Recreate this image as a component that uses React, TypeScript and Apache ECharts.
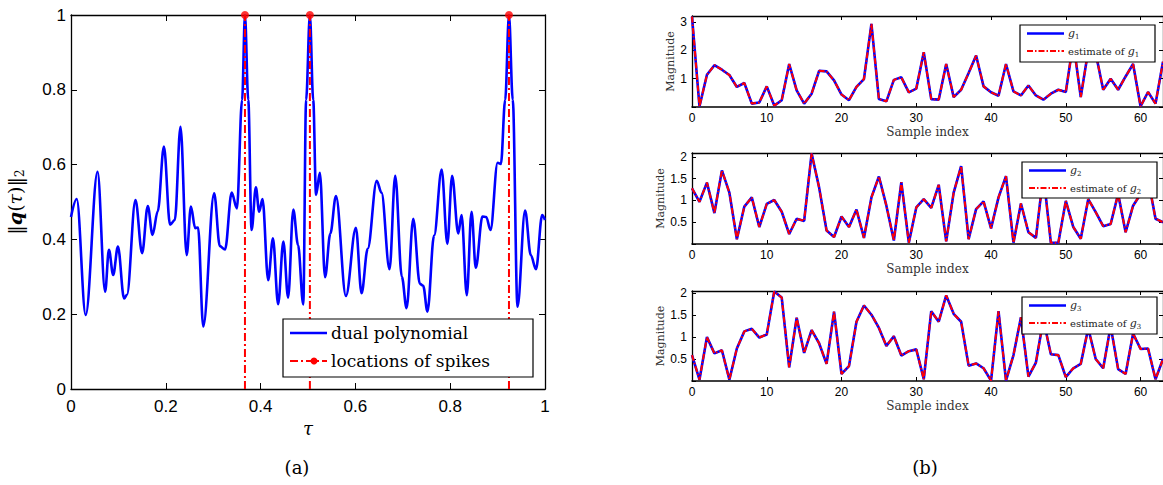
import React, { useEffect, useRef } from "react";
import * as echarts from "echarts";

// ---------- data ----------
const tau = [
  0.0, 0.012, 0.031, 0.056, 0.072, 0.08, 0.089, 0.099, 0.112, 0.118, 0.136, 0.15, 0.162, 0.172, 0.183, 0.196,
  0.209, 0.219, 0.231, 0.244, 0.253, 0.262, 0.268, 0.279, 0.302, 0.314, 0.325, 0.339, 0.35, 0.361, 0.367, 0.374,
  0.381, 0.39, 0.397, 0.404, 0.416, 0.426, 0.437, 0.448, 0.458, 0.469, 0.479, 0.49, 0.496, 0.504, 0.511, 0.517,
  0.525, 0.536, 0.547, 0.559, 0.58, 0.601, 0.613, 0.626, 0.645, 0.655, 0.672, 0.684, 0.698, 0.708, 0.722, 0.736,
  0.743, 0.752, 0.766, 0.782, 0.794, 0.804, 0.817, 0.824, 0.835, 0.845, 0.854, 0.868, 0.876, 0.885, 0.9, 0.907,
  0.916, 0.924, 0.932, 0.942, 0.958, 0.97, 0.981, 0.994, 1.0,
];
const dualPoly = [
  0.46, 0.508, 0.198, 0.581, 0.26, 0.372, 0.305, 0.381, 0.242, 0.252, 0.505, 0.363, 0.489, 0.412, 0.475, 0.648,
  0.439, 0.452, 0.701, 0.358, 0.488, 0.43, 0.432, 0.167, 0.523, 0.382, 0.373, 0.525, 0.483, 0.773, 1.0, 0.773,
  0.425, 0.539, 0.474, 0.508, 0.291, 0.403, 0.227, 0.394, 0.244, 0.48, 0.385, 0.226, 0.773, 1.0, 0.773, 0.519,
  0.578, 0.299, 0.415, 0.516, 0.249, 0.431, 0.256, 0.375, 0.557, 0.525, 0.32, 0.57, 0.3, 0.216, 0.455, 0.281,
  0.276, 0.207, 0.41, 0.587, 0.388, 0.57, 0.416, 0.465, 0.251, 0.474, 0.324, 0.461, 0.46, 0.425, 0.605, 0.602,
  0.773, 1.0, 0.773, 0.22, 0.477, 0.358, 0.32, 0.465, 0.452,
];
const spikeTau = [0.367, 0.504, 0.924];

const g1 = [
  3.2, 0.02, 1.14, 1.48, 1.32, 1.13, 0.71, 0.85, 0.12, 0.16, 0.73, 0.05, 0.24, 1.52, 0.59, 0.12, 0.47, 1.28, 1.26, 0.94,
  0.44, 0.24, 0.71, 0.99, 2.94, 0.28, 0.2, 0.96, 1.05, 0.52, 0.65, 1.94, 0.28, 0.26, 1.52, 0.35, 0.61, 1.2, 1.82, 0.73,
  0.52, 0.4, 1.52, 0.55, 0.41, 0.76, 0.41, 0.26, 0.47, 0.61, 0.53, 2.3, 0.35, 2.0, 1.9, 0.61, 1.0, 0.61, 1.08, 1.52,
  0.02, 0.53, 0.12, 1.6,
];
const g2 = [
  1.28, 0.97, 1.41, 0.71, 1.69, 1.18, 0.11, 0.86, 1.07, 0.39, 0.92, 1.01, 0.74, 0.23, 0.58, 0.53, 2.08, 1.3, 0.31, 0.16,
  0.63, 0.39, 0.79, 0.14, 1.07, 1.55, 0.88, 0.08, 1.42, 0.03, 0.84, 1.03, 0.83, 1.36, 0.06, 1.18, 1.79, 0.11, 0.8, 0.98,
  0.36, 1.07, 1.56, 0.03, 0.93, 0.27, 0.14, 1.6, 0.03, 0.03, 0.99, 0.39, 0.12, 1.03, 0.73, 0.41, 0.46, 1.15, 0.27, 0.88,
  1.15, 1.5, 0.58, 0.5,
];
const g3 = [
  0.59, 0.03, 1.0, 0.63, 0.7, 0.03, 0.74, 1.13, 1.19, 0.99, 1.06, 2.04, 1.9, 0.31, 1.44, 0.64, 1.16, 0.86, 0.39, 1.58,
  0.16, 0.34, 1.35, 1.72, 1.51, 1.21, 0.8, 1.02, 0.58, 0.68, 0.72, 0.04, 1.59, 1.35, 1.95, 1.53, 1.35, 0.35, 0.4, 0.29,
  0.01, 1.59, 0.01, 0.59, 1.45, 0.1, 0.42, 1.4, 0.61, 0.59, 0.09, 0.29, 0.39, 1.2, 0.5, 0.29, 1.25, 0.27, 0.16, 1.08,
  0.73, 0.74, 0.04, 0.5,
];
const gSeries = [g1, g2, g3];
const gNames = ["1", "2", "3"];
const yMaxes = [3.22, 2.09, 2.05];
const yIntervals = [1, 0.5, 0.5];
const legendTexts = ["dual polynomial", "locations of spikes"];

// ---------- styles ----------
const SANS = "Liberation Sans, Arial, sans-serif";
const SERIF = "DejaVu Serif, serif";
const BLUE = "#0000ff";
const RED = "#ff0000";

function buildOption() {
  const grids: any[] = [
    { left: 71, top: 15, width: 474, height: 374 },
    { left: 692, top: 16, width: 472, height: 91 },
    { left: 692, top: 153, width: 472, height: 91 },
    { left: 692, top: 291, width: 472, height: 90 },
  ];
  const frameLine = { show: true, onZero: false, lineStyle: { color: "#000", width: 1.3 } };
  const xAxes: any[] = [];
  const yAxes: any[] = [];

  // left plot
  xAxes.push({
    gridIndex: 0, type: "value", min: 0, max: 1, interval: 0.2, position: "bottom",
    axisLine: frameLine, axisTick: { inside: true, length: 6, lineStyle: { color: "#000" } },
    axisLabel: { fontFamily: SANS, fontSize: 17, color: "#000", margin: 9, formatter: (v: number) => String(Math.round(v * 10) / 10) },
    splitLine: { show: false },
    name: "τ", nameLocation: "middle", nameGap: 20,
    nameTextStyle: { fontFamily: SERIF, fontStyle: "italic", fontSize: 18, color: "#000" },
  });
  xAxes.push({
    gridIndex: 0, type: "value", min: 0, max: 1, interval: 0.2, position: "top",
    axisLine: frameLine, axisTick: { inside: true, length: 6, lineStyle: { color: "#000" } },
    axisLabel: { show: false }, splitLine: { show: false },
  });
  yAxes.push({
    gridIndex: 0, type: "value", min: 0, max: 1, interval: 0.2, position: "left",
    axisLine: frameLine, axisTick: { inside: true, length: 6, lineStyle: { color: "#000" } },
    axisLabel: { fontFamily: SANS, fontSize: 17, color: "#000", margin: 5, formatter: (v: number) => String(Math.round(v * 10) / 10) },
    splitLine: { show: false },
    name: "{n|‖}{q|q}{n|(}{t|τ}{n|)‖}{s|2}", nameLocation: "middle", nameGap: 45, nameRotate: 90,
    nameTextStyle: {
      rich: {
        n: { fontFamily: SERIF, fontSize: 19, color: "#000", lineHeight: 22 },
        q: { fontFamily: SERIF, fontSize: 19, fontWeight: "bold", fontStyle: "italic", color: "#000", lineHeight: 22 },
        t: { fontFamily: SERIF, fontSize: 19, fontStyle: "italic", color: "#000", lineHeight: 22 },
        s: { fontFamily: SERIF, fontSize: 12, color: "#000", lineHeight: 22, verticalAlign: "bottom" },
      },
    },
  });
  yAxes.push({
    gridIndex: 0, type: "value", min: 0, max: 1, interval: 0.2, position: "right",
    axisLine: frameLine, axisTick: { inside: true, length: 6, lineStyle: { color: "#000" } },
    axisLabel: { show: false }, splitLine: { show: false },
  });

  // right plots
  for (let k = 0; k < 3; k++) {
    const gi = k + 1;
    xAxes.push({
      gridIndex: gi, type: "value", min: 0, max: 63, interval: 10, position: "bottom",
      axisLine: { show: true, onZero: false, lineStyle: { color: "#000", width: 1.6 } },
      axisTick: { inside: true, length: 4, lineStyle: { color: "#000" } },
      axisLabel: { fontFamily: SANS, fontSize: 12, color: "#000", margin: 5, showMaxLabel: false },
      splitLine: { show: false },
      name: "Sample index", nameLocation: "middle", nameGap: 19,
      nameTextStyle: { fontFamily: SERIF, fontSize: 12, color: "#333" },
    });
    xAxes.push({
      gridIndex: gi, type: "value", min: 0, max: 63, interval: 10, position: "top",
      axisLine: frameLine, axisTick: { inside: true, length: 4, lineStyle: { color: "#000" } },
      axisLabel: { show: false }, splitLine: { show: false },
    });
    const step = yIntervals[k];
    const ymax = yMaxes[k];
    yAxes.push({
      gridIndex: gi, type: "value", min: 0, max: ymax, interval: step, position: "left",
      axisLine: frameLine, axisTick: { inside: true, length: 4, lineStyle: { color: "#000" } },
      axisLabel: {
        fontFamily: SANS, fontSize: 12, color: "#000", margin: 5,
        formatter: (v: number) => {
          const r = v / step;
          if (v <= 0 || Math.abs(r - Math.round(r)) > 1e-6 || v > ymax) return "";
          return String(v);
        },
      },
      splitLine: { show: false },
      name: "Magnitude", nameLocation: "middle", nameGap: 15, nameRotate: 90,
      nameTextStyle: { fontFamily: SERIF, fontSize: 11, color: "#333" },
    });
    yAxes.push({
      gridIndex: gi, type: "value", min: 0, max: ymax, interval: step, position: "right",
      axisLine: frameLine, axisTick: { inside: true, length: 4, lineStyle: { color: "#000" } },
      axisLabel: { show: false }, splitLine: { show: false },
    });
  }

  const series: any[] = [];
  series.push({
    type: "line", xAxisIndex: 0, yAxisIndex: 0,
    data: tau.map((t, i) => [t, dualPoly[i]]),
    showSymbol: false, smooth: 0.35, smoothMonotone: "x",
    lineStyle: { color: BLUE, width: 2.6 }, itemStyle: { color: BLUE }, z: 2,
  });
  spikeTau.forEach((t) => {
    series.push({
      type: "line", xAxisIndex: 0, yAxisIndex: 0,
      data: [[t, 0], [t, 1]], showSymbol: false,
      lineStyle: { color: RED, width: 2, type: [8, 3, 2, 3] }, z: 3,
    });
  });
  series.push({
    type: "scatter", xAxisIndex: 0, yAxisIndex: 0,
    data: spikeTau.map((t) => [t, 1]), symbolSize: 8,
    itemStyle: { color: RED }, z: 4,
  });
  for (let k = 0; k < 3; k++) {
    const data = gSeries[k].map((v, i) => [i, v]);
    series.push({
      type: "line", xAxisIndex: 2 + 2 * k, yAxisIndex: 2 + 2 * k, data, showSymbol: false,
      lineStyle: { color: BLUE, width: 2.6 }, z: 2,
    });
    series.push({
      type: "line", xAxisIndex: 2 + 2 * k, yAxisIndex: 2 + 2 * k, data, showSymbol: false,
      lineStyle: { color: RED, width: 2, type: [6, 2, 1.5, 2] }, z: 3,
    });
  }

  // legends and captions
  const graphic: any[] = [];
  graphic.push(
    { type: "rect", z: 100, shape: { x: 283, y: 319, width: 250, height: 58 }, style: { fill: "#fff", stroke: "#000", lineWidth: 1.2 } },
    { type: "line", z: 101, shape: { x1: 290, y1: 333, x2: 327, y2: 333 }, style: { stroke: BLUE, lineWidth: 2.6 } },
    { type: "text", z: 101, x: 331, y: 333, style: { text: legendTexts[0], fontFamily: SERIF, fontSize: 17, fill: "#000", verticalAlign: "middle" } },
    { type: "line", z: 101, shape: { x1: 290, y1: 361, x2: 327, y2: 361 }, style: { stroke: RED, lineWidth: 2, lineDash: [8, 3, 2, 3] } },
    { type: "circle", z: 102, shape: { cx: 314, cy: 361, r: 3.5 }, style: { fill: RED } },
    { type: "text", z: 101, x: 331, y: 361, style: { text: legendTexts[1], fontFamily: SERIF, fontSize: 17, fill: "#000", verticalAlign: "middle" } },
    { type: "text", z: 101, x: 297, y: 467, style: { text: "(a)", fontFamily: SERIF, fontSize: 18, fill: "#000", align: "center", verticalAlign: "middle" } },
    { type: "text", z: 101, x: 925, y: 467, style: { text: "(b)", fontFamily: SERIF, fontSize: 18, fill: "#000", align: "center", verticalAlign: "middle" } },
  );
  const boxes = [
    { x: 1020, y: 25, h: 37 },
    { x: 1022, y: 162, h: 36 },
    { x: 1022, y: 297, h: 37 },
  ];
  const rich = {
    r: { fontFamily: SERIF, fontSize: 10, fill: "#222", lineHeight: 14 },
    g: { fontFamily: SERIF, fontSize: 11, fontStyle: "italic", fill: "#222", lineHeight: 14 },
    s: { fontFamily: SERIF, fontSize: 7, fill: "#222", lineHeight: 14, verticalAlign: "bottom" },
  };
  boxes.forEach((b, k) => {
    const r1 = b.y + 8.5;
    const r2 = b.y + 26;
    graphic.push(
      { type: "rect", z: 100, shape: { x: b.x, y: b.y, width: 135, height: b.h }, style: { fill: "#fff", stroke: "#000", lineWidth: 1.2 } },
      { type: "line", z: 101, shape: { x1: b.x + 7, y1: r1, x2: b.x + 44, y2: r1 }, style: { stroke: BLUE, lineWidth: 2.4 } },
      { type: "text", z: 101, x: b.x + 48, y: r1, style: { text: `{g|g}{s|${gNames[k]}}`, rich, verticalAlign: "middle" } },
      { type: "line", z: 101, shape: { x1: b.x + 7, y1: r2, x2: b.x + 44, y2: r2 }, style: { stroke: RED, lineWidth: 2, lineDash: [6, 2, 1.5, 2] } },
      { type: "text", z: 101, x: b.x + 48, y: r2, style: { text: `{r|estimate of }{g|g}{s|${gNames[k]}}`, rich, verticalAlign: "middle" } },
    );
  });

  return {
    animation: false,
    backgroundColor: "#fff",
    grid: grids,
    xAxis: xAxes,
    yAxis: yAxes,
    series,
    graphic,
  };
}

export default function App() {
  const ref = useRef<HTMLDivElement>(null);
  useEffect(() => {
    document.body.style.margin = "0";
    const chart = echarts.init(ref.current!, null, { renderer: "svg" });
    chart.setOption(buildOption() as any);
    return () => chart.dispose();
  }, []);
  return <div ref={ref} style={{ position: "absolute", left: 0, top: 0, width: 1163, height: 485, background: "#fff" }} />;
}
